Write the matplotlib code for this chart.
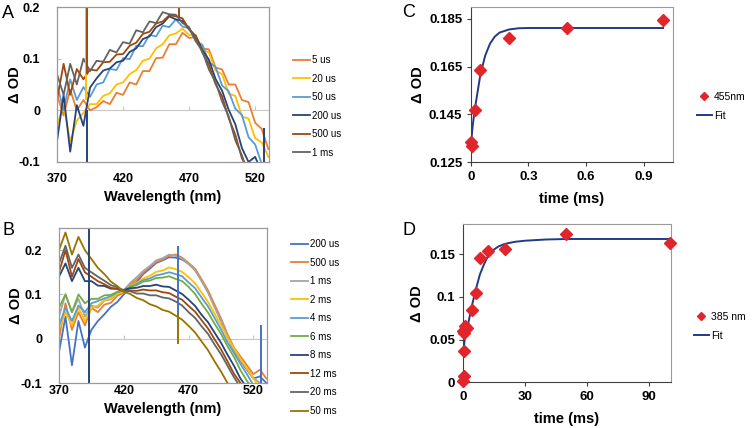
import matplotlib
matplotlib.use('Agg')
import matplotlib.pyplot as plt

plt.rcParams['font.family'] = ['Liberation Sans', 'DejaVu Sans']

# ---- panel A: spectra at early times ----
WL = list(range(370, 535, 5))

A_LABELS = ['5 us', '20 us', '50 us', '200 us', '500 us', '1 ms']
A_COLORS = ['#ED7D31', '#FFC000', '#5B9BD5', '#264478', '#9E480E', '#636363']
A_5US = [0.03, -0.01, 0.04, 0.00, 0.02, 0.00, 0.006, 0.018, 0.012, 0.034, 0.03, 0.054, 0.05, 0.076, 0.076, 0.101,
         0.102, 0.128, 0.128, 0.15, 0.14, 0.142, 0.12, 0.118, 0.083, 0.079, 0.05, 0.05, 0.02, 0.016, -0.024,
         -0.036, -0.075]
A_20US = [-0.03, 0.01, -0.06, -0.02, -0.005, 0.012, 0.012, 0.028, 0.033, 0.05, 0.054, 0.07, 0.078, 0.096, 0.1,
          0.12, 0.128, 0.145, 0.149, 0.158, 0.146, 0.146, 0.118, 0.112, 0.077, 0.07, 0.032, 0.028, -0.012, -0.016,
          -0.054, -0.062, -0.09]
A_50US = [0.05, 0.0, 0.06, 0.02, 0.045, 0.026, 0.05, 0.054, 0.08, 0.078, 0.101, 0.099, 0.125, 0.124, 0.146, 0.143,
          0.164, 0.161, 0.176, 0.162, 0.159, 0.134, 0.127, 0.093, 0.084, 0.048, 0.037, 0.003, -0.009, -0.052,
          -0.066, -0.104, -0.12]
A_200US = [-0.06, 0.03, -0.08, 0.01, -0.03, 0.044, 0.062, 0.077, 0.081, 0.093, 0.096, 0.113, 0.12, 0.138, 0.143,
           0.161, 0.168, 0.182, 0.176, 0.173, 0.157, 0.144, 0.117, 0.098, 0.061, 0.038, 0.001, -0.027, -0.073, -0.1,
           -0.09, -0.12, -0.13]
A_500US = [0.02, 0.09, 0.03, 0.08, 0.06, 0.079, 0.077, 0.093, 0.094, 0.108, 0.109, 0.125, 0.131, 0.148, 0.152,
           0.168, 0.172, 0.184, 0.182, 0.178, 0.157, 0.142, 0.112, 0.088, 0.051, 0.027, -0.015, -0.047, -0.093,
           -0.115, -0.13, -0.14, -0.14]
A_1MS = [0.07, 0.03, 0.09, 0.05, 0.1, 0.076, 0.096, 0.094, 0.117, 0.112, 0.132, 0.129, 0.155, 0.151, 0.172, 0.169,
         0.19, 0.186, 0.185, 0.169, 0.161, 0.134, 0.115, 0.079, 0.055, 0.017, -0.012, -0.058, -0.087, -0.125, -0.13,
         -0.14, -0.14]
A_DATA = [A_5US, A_20US, A_50US, A_200US, A_500US, A_1MS]

# artefact spikes
A_SPIKE_WL = [392, 393, 393, 462, 527]
A_SPIKE_LO = [0.02, 0.07, 0.0, 0.18, -0.15]
A_SPIKE_HI = [0.25, 0.25, -0.15, 0.25, -0.035]
A_SPIKE_SERIES = ['20 us', '500 us', '200 us', '500 us', '200 us']

# ---- panel B: spectra at later times ----
B_LABELS = ['200 us', '500 us', '1 ms', '2 ms', '4 ms', '6 ms', '8 ms', '12 ms', '20 ms', '50 ms']
B_COLORS = ['#4472C4', '#ED7D31', '#A5A5A5', '#FFC000', '#5B9BD5', '#70AD47', '#264478', '#9E480E', '#636363',
            '#997300']
B_200US = [-0.03, 0.05, -0.06, 0.04, -0.02, 0.02, 0.04, 0.055, 0.072, 0.083, 0.1, 0.117, 0.128, 0.146, 0.158, 0.171,
           0.177, 0.184, 0.183, 0.179, 0.169, 0.156, 0.132, 0.106, 0.074, 0.041, 0.005, -0.026, -0.05, -0.07, -0.09,
           -0.085, -0.1]
B_500US = [0.0, 0.08, 0.02, 0.06, 0.03, 0.07, 0.06, 0.077, 0.081, 0.097, 0.104, 0.122, 0.134, 0.149, 0.162, 0.173,
           0.179, 0.187, 0.19, 0.183, 0.171, 0.158, 0.134, 0.109, 0.077, 0.046, 0.01, -0.02, -0.04, -0.06, -0.08,
           -0.07, -0.09]
B_1MS = [0.05, 0.1, 0.06, 0.09, 0.05, 0.075, 0.07, 0.086, 0.089, 0.101, 0.11, 0.126, 0.139, 0.153, 0.164, 0.177,
         0.182, 0.19, 0.187, 0.181, 0.169, 0.154, 0.13, 0.104, 0.071, 0.041, 0.004, -0.025, -0.048, -0.068, -0.088,
         -0.1, -0.11]
B_2MS = [0.02, 0.06, 0.03, 0.07, 0.04, 0.07, 0.075, 0.087, 0.091, 0.101, 0.107, 0.119, 0.126, 0.136, 0.142, 0.151,
         0.154, 0.161, 0.157, 0.151, 0.139, 0.125, 0.104, 0.083, 0.057, 0.031, 0.002, -0.021, -0.046, -0.067, -0.09,
         -0.11, -0.12]
B_4MS = [0.03, 0.07, 0.04, 0.075, 0.06, 0.08, 0.085, 0.091, 0.096, 0.105, 0.109, 0.118, 0.123, 0.132, 0.136, 0.143,
         0.146, 0.15, 0.146, 0.141, 0.127, 0.114, 0.093, 0.073, 0.047, 0.021, -0.008, -0.032, -0.057, -0.08, -0.105,
         -0.12, -0.13]
B_6MS = [0.07, 0.1, 0.06, 0.1, 0.08, 0.09, 0.09, 0.098, 0.099, 0.106, 0.109, 0.117, 0.121, 0.129, 0.131, 0.137,
         0.138, 0.141, 0.135, 0.13, 0.117, 0.101, 0.079, 0.059, 0.034, 0.011, -0.017, -0.041, -0.071, -0.095, -0.115,
         -0.13, -0.14]
B_8MS = [0.14, 0.17, 0.13, 0.16, 0.13, 0.13, 0.12, 0.119, 0.113, 0.113, 0.11, 0.114, 0.115, 0.119, 0.119, 0.122,
         0.118, 0.117, 0.109, 0.101, 0.088, 0.074, 0.054, 0.037, 0.014, -0.009, -0.036, -0.061, -0.09, -0.11, -0.12,
         -0.13, -0.14]
B_12MS = [0.15, 0.2, 0.14, 0.18, 0.15, 0.14, 0.13, 0.123, 0.115, 0.112, 0.107, 0.109, 0.108, 0.111, 0.109, 0.109,
          0.105, 0.103, 0.095, 0.088, 0.074, 0.061, 0.042, 0.023, -0.001, -0.024, -0.051, -0.079, -0.1, -0.12, -0.13,
          -0.14, -0.14]
B_20MS = [0.17, 0.21, 0.16, 0.19, 0.16, 0.15, 0.14, 0.131, 0.121, 0.116, 0.109, 0.107, 0.102, 0.102, 0.098, 0.098,
          0.093, 0.091, 0.084, 0.075, 0.06, 0.047, 0.028, 0.011, -0.013, -0.035, -0.061, -0.087, -0.11, -0.12, -0.13,
          -0.14, -0.14]
B_50MS = [0.2, 0.24, 0.19, 0.23, 0.2, 0.18, 0.16, 0.146, 0.129, 0.119, 0.106, 0.101, 0.092, 0.087, 0.078, 0.073,
          0.065, 0.061, 0.052, 0.043, 0.029, 0.014, -0.006, -0.026, -0.051, -0.074, -0.1, -0.12, -0.13, -0.14, -0.14,
          -0.14, -0.14]
B_DATA = [B_200US, B_500US, B_1MS, B_2MS, B_4MS, B_6MS, B_8MS, B_12MS, B_20MS, B_50MS]

B_SPIKE_WL = [393, 462, 462, 526]
B_SPIKE_LO = [-0.15, 0.05, 0.055, -0.15]
B_SPIKE_HI = [0.3, 0.21, -0.012, 0.03]
B_SPIKE_SERIES = ['8 ms', '200 us', '50 ms', '200 us']

SPEC_XTICKS = [370, 420, 470, 520]
SPEC_YTICKS = [-0.1, 0, 0.1, 0.2]
SPEC_YLABELS = ['-0.1', '0', '0.1', '0.2']

# ---- panel C: kinetics at 455 nm ----
C_T = [0, 0.005, 0.02, 0.05, 0.2, 0.5, 1.0]
C_OD = [0.1334, 0.1319, 0.147, 0.1637, 0.177, 0.1811, 0.1843]
C_FIT_T = [0, 0.01, 0.02, 0.03, 0.05, 0.075, 0.1, 0.125, 0.15, 0.2, 0.25, 0.3, 0.5, 1.0]
C_FIT_OD = [0.1312, 0.140, 0.1465, 0.1515, 0.1615, 0.1695, 0.1745, 0.1775, 0.1792, 0.1805, 0.1810, 0.1811, 0.1811,
            0.1811]
C_XTICKS = [0, 0.3, 0.6, 0.9]
C_XLABELS = ['0', '0.3', '0.6', '0.9']
C_YTICKS = [0.125, 0.145, 0.165, 0.185]
C_YLABELS = ['0.125', '0.145', '0.165', '0.185']

# ---- panel D: kinetics at 385 nm ----
D_T = [0, 0.1, 0.2, 0, 0.5, 1, 2, 4, 6, 8, 12, 20, 50, 100]
D_OD = [0.001, 0.007, 0.037, 0.060, 0.058, 0.066, 0.064, 0.085, 0.104, 0.145, 0.154, 0.156, 0.174, 0.163]
D_FIT_T = [0, 0.5, 1, 2, 4, 6, 8, 10, 12, 14, 17, 20, 25, 30, 40, 50, 100]
D_FIT_OD = [0.03, 0.047, 0.055, 0.064, 0.088, 0.108, 0.126, 0.138, 0.148, 0.154, 0.159, 0.162, 0.1645, 0.1658,
            0.1672, 0.1678, 0.1678]
D_XTICKS = [0, 30, 60, 90]
D_YTICKS = [0, 0.05, 0.1, 0.15]
D_YLABELS = ['0', '0.05', '0.1', '0.15']

RED = '#E0262B'
NAVY = '#1F3A87'
W, H = 755, 428


def rect(left, top, right, bottom):
    return [left / W, 1 - bottom / H, (right - left) / W, (bottom - top) / H]


def spectra(ax, labels, colors, data, spikes, ylim, legend_xy, xpad):
    for lab, col, ys in zip(labels, colors, data):
        ax.plot(WL, ys, color=col, lw=1.3, label=lab)
    for wl, lo, hi, ser in zip(*spikes):
        ax.vlines(wl, lo, hi, color=colors[labels.index(ser)], lw=1.4)
    ax.set_xlim(370, 530.5)
    ax.set_ylim(*ylim)
    ax.set_xticks(SPEC_XTICKS)
    ax.set_xticklabels([str(x) for x in SPEC_XTICKS])
    ax.set_yticks(SPEC_YTICKS)
    ax.set_yticklabels(SPEC_YLABELS)
    ax.tick_params(axis='x', length=0, pad=xpad)
    ax.tick_params(axis='y', direction='in', length=3, color='#bfbfbf', pad=12)
    for lbl in ax.get_xticklabels() + ax.get_yticklabels():
        lbl.set_fontweight('bold')
        lbl.set_fontsize(9)
    for sp in ax.spines.values():
        sp.set_color('#9a9a9a')
        sp.set_linewidth(0.9)
    # zero line with its own small ticks
    zero = (0 - ylim[0]) / (ylim[1] - ylim[0])
    sec = ax.secondary_xaxis(zero)
    sec.set_xticks(SPEC_XTICKS)
    sec.tick_params(direction='in', length=3, color='#c8c8c8', labelbottom=False)
    for sp in sec.spines.values():
        sp.set_color('#c8c8c8')
    ax.set_xlabel('Wavelength (nm)', fontsize=10.5, fontweight='bold')
    ax.set_ylabel('Δ OD', fontsize=10.5, fontweight='bold')
    ax.legend(loc='upper left', bbox_to_anchor=legend_xy, bbox_transform=ax.figure.transFigure,
              frameon=False, fontsize=7, handlelength=1.75, handletextpad=0.2, labelspacing=0.88,
              borderpad=0, borderaxespad=0)


def kinetics(ax, t, od, ft, fod, label, legend_xy):
    fit, = ax.plot(ft, fod, color=NAVY, lw=1.4, label='Fit', zorder=2)
    pts, = ax.plot(t, od, 'D', color=RED, mec=RED, ms=6.5, ls='none', label=label, clip_on=False, zorder=3)
    ax.tick_params(direction='out', length=3, color='#404040', pad=3)
    for lbl in ax.get_xticklabels() + ax.get_yticklabels():
        lbl.set_fontweight('bold')
        lbl.set_fontsize(9.5)
    ax.spines['left'].set_color('#404040')
    ax.spines['bottom'].set_color('#404040')
    ax.spines['top'].set_color('#9a9a9a')
    ax.spines['right'].set_color('#9a9a9a')
    ax.set_xlabel('time (ms)', fontsize=10.5, fontweight='bold')
    ax.set_ylabel('Δ OD', fontsize=10.5, fontweight='bold')
    ax.legend(handles=[pts, fit], loc='upper left', bbox_to_anchor=legend_xy,
              bbox_transform=ax.figure.transFigure, frameon=False, fontsize=7.5, markerscale=0.65,
              handlelength=1.4, handletextpad=0.25, labelspacing=0.85, borderpad=0, borderaxespad=0)


fig = plt.figure(figsize=(7.55, 4.28), dpi=100)

axA = fig.add_axes(rect(57, 7, 269, 162))
spectra(axA, A_LABELS, A_COLORS, A_DATA, (A_SPIKE_WL, A_SPIKE_LO, A_SPIKE_HI, A_SPIKE_SERIES),
        (-0.1, 0.2), (293 / W, 1 - 55 / H), 8)
axA.xaxis.set_label_coords(0.5, -0.18)
axA.yaxis.set_label_coords(-0.165, 0.5)

axB = fig.add_axes(rect(59, 228, 267, 383))
spectra(axB, B_LABELS, B_COLORS, B_DATA, (B_SPIKE_WL, B_SPIKE_LO, B_SPIKE_HI, B_SPIKE_SERIES),
        (-0.1, 0.25), (291 / W, 1 - 239 / H), 1.5)
axB.xaxis.set_label_coords(0.5, -0.12)
axB.yaxis.set_label_coords(-0.175, 0.5)

axC = fig.add_axes(rect(470.7, 6.7, 672.7, 162.3))
axC.set_xlim(0, 1.05)
axC.set_ylim(0.125, 0.19)
axC.set_xticks(C_XTICKS)
axC.set_xticklabels(C_XLABELS)
axC.set_yticks(C_YTICKS)
axC.set_yticklabels(C_YLABELS)
kinetics(axC, C_T, C_OD, C_FIT_T, C_FIT_OD, '455nm', (697 / W, 1 - 92 / H))
axC.xaxis.set_label_coords(0.5, -0.19)
axC.yaxis.set_label_coords(-0.225, 0.5)

axD = fig.add_axes(rect(463.3, 224.3, 670.7, 382.3))
axD.set_xlim(0, 100.5)
axD.set_ylim(0, 0.185)
axD.set_xticks(D_XTICKS)
axD.set_xticklabels([str(x) for x in D_XTICKS])
axD.set_yticks(D_YTICKS)
axD.set_yticklabels(D_YLABELS)
kinetics(axD, D_T, D_OD, D_FIT_T, D_FIT_OD, '385 nm', (694 / W, 1 - 312 / H))
axD.xaxis.set_label_coords(0.5, -0.185)
axD.yaxis.set_label_coords(-0.19, 0.5)

for letter, x, y in [('A', 2, 5), ('B', 2, 222), ('C', 402, 4), ('D', 403, 222)]:
    fig.text(x / W, 1 - y / H, letter, fontsize=13, va='top', ha='left')

fig.savefig('out.png', dpi=100)
